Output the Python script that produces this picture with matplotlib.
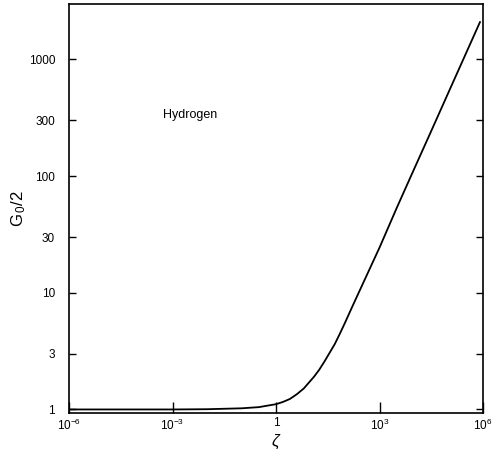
import matplotlib
matplotlib.use("Agg")
import matplotlib.pyplot as plt
from matplotlib.ticker import FixedLocator, NullLocator

plt.rcParams["font.family"] = ["Liberation Sans", "DejaVu Sans"]
plt.rcParams["mathtext.fontset"] = "custom"
plt.rcParams["mathtext.rm"] = "Liberation Sans"
plt.rcParams["mathtext.it"] = "Liberation Sans:italic"

# values
xi = [1e-6, 1e-3, 0.01, 0.1, 0.316, 1.0, 1.58, 2.51, 3.98, 6.31, 12.6, 17.8,
      25.1, 50.1, 70.8, 100, 158, 251, 1000, 3162, 1e4, 31620, 1e5, 3.16e5, 8.1e5]
g0_half = [1.0, 1.0, 1.005, 1.023, 1.047, 1.11, 1.16, 1.23, 1.35, 1.51, 1.91, 2.19,
           2.57, 3.63, 4.47, 5.56, 7.5, 10.1, 24.5, 53.7, 115, 245, 525, 1122, 2090]

x_ticks = [1e-6, 1e-3, 1, 1e3, 1e6]
x_labels = [r"10$^{-6}$", r"10$^{-3}$", "1", r"10$^{3}$", r"10$^{6}$"]
y_ticks = [1, 3, 10, 30, 100, 300, 1000]
y_labels = ["1", "3", "10", "30", "100", "300", "1000"]

fig = plt.figure(figsize=(4.93, 4.54), dpi=100)
ax = fig.add_axes([0.140, 0.090, 0.840, 0.901])

ax.plot(xi, g0_half, color="black", lw=1.3)
ax.set_xscale("log")
ax.set_yscale("log")
ax.set_xlim(1e-6, 1e6)
ax.set_ylim(0.93, 2980)

ax.xaxis.set_major_locator(FixedLocator(x_ticks))
ax.xaxis.set_minor_locator(NullLocator())
ax.set_xticklabels(x_labels)
ax.yaxis.set_major_locator(FixedLocator(y_ticks))
ax.yaxis.set_minor_locator(NullLocator())
ax.set_yticklabels(y_labels)

ax.tick_params(axis="x", direction="in", length=8, width=1, labelsize=8.5, pad=3)
ax.tick_params(axis="y", direction="in", length=5, width=1, labelsize=8.5,
               right=True, pad=10)
for s in ax.spines.values():
    s.set_linewidth(1.2)

ax.set_xlabel(r"$\zeta$", fontsize=12, labelpad=0)
ax.set_ylabel(r"G$_{\,0}$/2", fontsize=12)
ax.yaxis.set_label_coords(-0.10, 0.5)

ax.text(0.227, 0.729, "Hydrogen", transform=ax.transAxes, fontsize=9,
        ha="left", va="center")

fig.savefig("out.png", dpi=100)
